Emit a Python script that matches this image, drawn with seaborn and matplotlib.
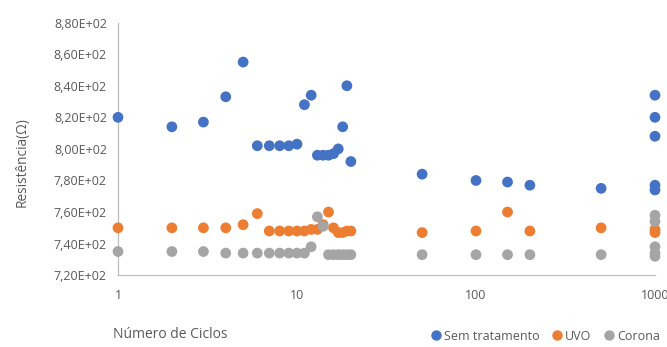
import numpy as np
import pandas as pd
import matplotlib
matplotlib.use("Agg")
import matplotlib.pyplot as plt
from matplotlib.ticker import FuncFormatter, FixedLocator, NullLocator
from matplotlib.lines import Line2D
import seaborn as sns

# Cycle counts (1..20 then sparse checkpoints, several readings at 1000)
ciclos_sem = [1, 2, 3, 4, 5, 6, 7, 8, 9, 10, 11, 12, 13, 14, 15, 16, 17, 18, 19, 20,
              50, 100, 150, 200, 500, 1000, 1000, 1000, 1000, 1000]
res_sem = [820, 814, 817, 833, 855, 802, 802, 802, 802, 803, 828, 834, 796, 796, 796, 797, 800, 814, 840, 792,
           784, 780, 779, 777, 775, 834, 820, 808, 777, 774]

ciclos_uvo = [1, 2, 3, 4, 5, 6, 7, 8, 9, 10, 11, 12, 13, 14, 15, 16, 17, 18, 19, 20,
              50, 100, 150, 200, 500, 1000, 1000]
res_uvo = [750, 750, 750, 750, 752, 759, 748, 748, 748, 748, 748, 749, 749, 752, 760, 750, 747, 747, 748, 748,
           747, 748, 760, 748, 750, 749, 747]

ciclos_corona = [1, 2, 3, 4, 5, 6, 7, 8, 9, 10, 11, 12, 13, 14, 15, 16, 17, 18, 19, 20,
                 50, 100, 150, 200, 500, 1000, 1000, 1000, 1000, 1000]
res_corona = [735, 735, 735, 734, 734, 734, 734, 734, 734, 734, 734, 738, 757, 751, 733, 733, 733, 733, 733, 733,
              733, 733, 733, 733, 733, 758, 754, 738, 734, 732]

series_names = ["Sem tratamento", "UVO", "Corona"]
series_colors = ["#4472C4", "#ED7D31", "#A5A5A5"]

df = pd.concat([
    pd.DataFrame({"ciclos": ciclos_sem, "res": res_sem, "serie": series_names[0]}),
    pd.DataFrame({"ciclos": ciclos_uvo, "res": res_uvo, "serie": series_names[1]}),
    pd.DataFrame({"ciclos": ciclos_corona, "res": res_corona, "serie": series_names[2]}),
], ignore_index=True)

sns.set_theme(style="white")
plt.rcParams["font.family"] = ["Open Sans", "DejaVu Sans"]

text_color = "#595959"
axis_color = "#BFBFBF"

fig = plt.figure(figsize=(6.67, 3.47), dpi=100)
ax = fig.add_axes([118 / 667, 1 - 275.2 / 347, (655 - 118) / 667, (275.2 - 22.6) / 347])

sns.scatterplot(data=df, x="ciclos", y="res", hue="serie", hue_order=series_names,
                palette=series_colors, s=60, edgecolor="none", linewidth=0,
                legend=False, ax=ax, clip_on=False, zorder=3)

ax.set_xscale("log")
ax.set_xlim(1, 1000)
ax.set_ylim(720, 880)
ax.xaxis.set_major_locator(FixedLocator([1, 10, 100, 1000]))
ax.xaxis.set_minor_locator(NullLocator())
ax.xaxis.set_major_formatter(FuncFormatter(lambda v, p: f"{v:.0f}"))
ax.yaxis.set_major_locator(FixedLocator(np.arange(720, 881, 20)))
ax.yaxis.set_major_formatter(FuncFormatter(lambda v, p: f"{v:.2E}".replace(".", ",")))

for side in ["top", "right"]:
    ax.spines[side].set_visible(False)
for side in ["left", "bottom"]:
    ax.spines[side].set_color(axis_color)
    ax.spines[side].set_linewidth(0.9)

ax.tick_params(axis="both", length=0, labelsize=9, colors=text_color)
ax.tick_params(axis="y", pad=8)
ax.tick_params(axis="x", pad=10)
ax.set_xlabel("")
ax.set_ylabel("")

fig.text(22 / 667, 1 - 162 / 347, "Resistência(Ω)", rotation=90, ha="center", va="center",
         fontsize=9.8, color=text_color)
fig.text(170 / 667, 1 - 335 / 347, "Número de Ciclos", ha="center", va="center",
         fontsize=10, color=text_color)

handles = [Line2D([], [], marker="o", linestyle="none", markersize=7.5,
                  markerfacecolor=c, markeredgecolor="none") for c in series_colors]
leg = fig.legend(handles, series_names, loc="center right", bbox_to_anchor=(660 / 667, 1 - 336 / 347),
                 ncol=3, frameon=False, fontsize=9, handletextpad=0.25, columnspacing=1.0,
                 handlelength=0.8, borderaxespad=0, borderpad=0)
for t in leg.get_texts():
    t.set_color(text_color)

fig.savefig("out.png", dpi=100)
